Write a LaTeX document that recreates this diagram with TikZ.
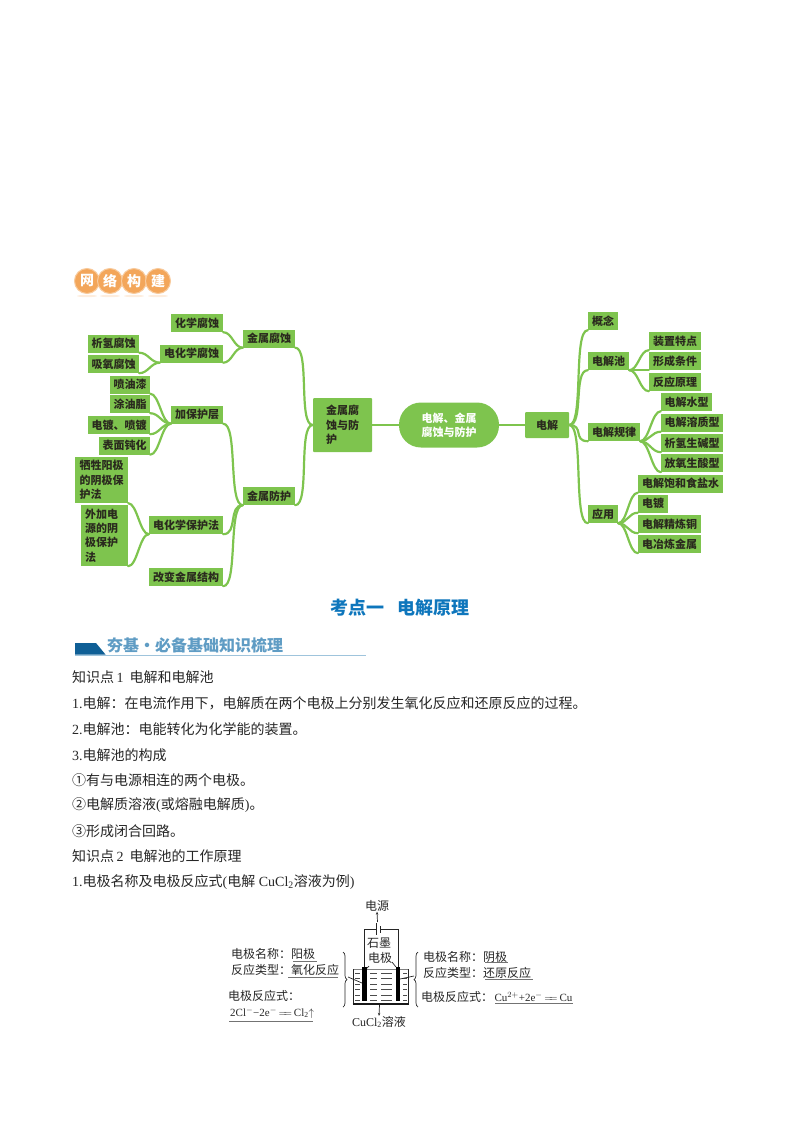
\documentclass[tikz,border=0pt]{standalone}
\usepackage{fontspec}
\setmainfont{Noto Sans CJK SC}
\newfontfamily\latn{Liberation Serif}
\usetikzlibrary{arrows.meta,positioning,decorations.pathreplacing}
\definecolor{mapgreen}{HTML}{7EC44E}
\definecolor{inkdark}{HTML}{2A2A1E}
\definecolor{titleblue}{HTML}{0E76BC}
\definecolor{bandblue}{HTML}{0F5F96}
\definecolor{bandtext}{HTML}{5F9CC4}
\definecolor{logoorange}{HTML}{F3A65A}
\newcommand{\mapfont}{\fontsize{11}{14.3}\bfseries\selectfont}
\newcommand{\bodyfont}{\fontsize{14}{17}\selectfont}
\newcommand{\labfont}{\fontsize{12}{15}\selectfont}
\newcommand{\eqfont}{\fontsize{11}{14}\latn}
\tikzset{
  topic/.style={fill=mapgreen,text=inkdark,font=\mapfont,inner sep=0pt,align=left,minimum height=18},
  link/.style={mapgreen,line width=2.2pt,line cap=round,out=0,in=180,distance=9},
  longlink/.style={link,distance=15},
  bodyline/.style={anchor=west,inner sep=0pt,text=black!85,font=\bodyfont},
  lab/.style={anchor=west,inner sep=0pt,text=black!85,font=\labfont},
  wire/.style={black!85,line width=0.7pt},
  ruleline/.style={black!55,line width=0.6pt},
}
\begin{document}
\begin{tikzpicture}[x=1pt,y=-1pt]
\useasboundingbox (0,0) rectangle (800,1132);
% logo
\foreach \x/\txt [count=\i] in {87/网,110/络,134/构,158/建} {
  \fill[logoorange!20] (\x,296) ellipse (10 and 1.2);
  \node[circle,fill=logoorange,draw=logoorange!60,line width=1pt,minimum size=25,inner sep=0pt,
    text=white,font=\fontsize{14}{14}\bfseries\selectfont] (logo\i) at (\x,281) {\txt};
}
% left branch
\foreach \name/\x/\y/\w/\txt in {
  chem/197/323/52/化学腐蚀, corr/269/338.5/52/金属腐蚀, hydro/113.5/343.5/51/析氢腐蚀,
  elec/191.5/353.5/63/电化学腐蚀, oxy/113.5/364/51/吸氧腐蚀, paint/130/384.5/40/喷油漆,
  grease/130/404/40/涂油脂, layer/197/414.5/52/加保护层, plate/119/425/62/电镀、喷镀,
  passiv/124.5/445.5/51/表面钝化, cath/186/525/74/电化学保护法,
  struct/186/577/74/改变金属结构, guard/269/496/52/金属防护} {
  \node[topic,minimum width=\w] (\name) at (\x,\y) {\txt};
}
\node[topic,minimum width=53,minimum height=46] (sacr) at (101.5,480) {牺牲阳极\\的阴极保\\护法};
\node[topic,text width=39,minimum width=47,minimum height=61,inner xsep=4pt] (ext) at (104.5,535.5) {外加电\\源的阴\\极保护\\法};
\node[topic,minimum width=59,minimum height=54,rounded corners=1pt] (prot) at (342.5,425) {金属腐\\蚀与防\\护};
% centre
\node[fill=mapgreen,text=white,font=\mapfont,align=center,rounded corners=22,inner sep=0pt,
  minimum width=100,minimum height=45] (root) at (449,425) {电解、金属\\腐蚀与防护};
\node[topic,minimum width=44,minimum height=26,rounded corners=1pt] (elyt) at (547,425) {电解};
% right branch
\foreach \name/\x/\y/\w/\txt in {
  idea/603/321/30/概念, cell/608.5/361/41/电解池, feat/675/341/52/装置特点, cond/675/361/52/形成条件,
  prin/675/382/52/反应原理, law/614/432/52/电解规律, water/686.5/402/51/电解水型, solu/692/422.5/62/电解溶质型,
  base/692/443/62/析氢生碱型, acid/692/463/62/放氧生酸型, use/603/514/30/应用,
  brine/680.5/483.5/85/电解饱和食盐水, elpl/653/503.5/30/电镀, refine/669.5/524/63/电解精炼铜,
  smelt/669.5/544/63/电冶炼金属} {
  \node[topic,minimum width=\w] (\name) at (\x,\y) {\txt};
}
% connectors, always from the left node to the right node
\foreach \from/\to in {chem/corr, elec/corr, hydro/elec, oxy/elec, paint/layer, grease/layer, plate/layer,
  passiv/layer, sacr/cath, ext/cath,
  cell/feat, cell/cond, cell/prin, law/water, law/solu, law/base, law/acid,
  use/brine, use/elpl, use/refine, use/smelt} {
  \draw[link] (\from.south east) to (\to.south west);
}
\foreach \from in {layer,cath,struct} \draw[longlink] (\from.south east) to (guard.south west);
\foreach \from in {corr,guard} \draw[longlink] (\from.south east) to (prot.west);
\foreach \to in {idea,cell,law,use} \draw[longlink] (elyt.east) to (\to.south west);
\draw[mapgreen,line width=2.2pt] (prot.east) -- (root.west) (root.east) -- (elyt.west);
% title and band
\node[text=titleblue,font=\fontsize{18}{20}\bfseries\selectfont,inner sep=0pt] (title) at (400,608) {考点一\hspace{14pt}电解原理};
\fill[bandblue] (75,643) -- (96,643) -- (105.5,654.5) -- (75,654.5) -- cycle;
\draw[bandtext!60,line width=0.8pt] (75,655.5) -- (366,655.5);
\node[anchor=west,inner sep=0pt,text=bandtext,font=\fontsize{16}{18}\bfseries\selectfont] (band) at (107,645) {夯基·必备基础知识梳理};
% text lines
\foreach \y/\txt [count=\i] in {
  677/知识点{\latn\,1}\hspace{6pt}电解和电解池,
  703/{\latn 1.}电解：在电流作用下，电解质在两个电极上分别发生氧化反应和还原反应的过程。,
  729/{\latn 2.}电解池：电能转化为化学能的装置。,
  755/{\latn 3.}电解池的构成,
  780/①有与电源相连的两个电极。,
  805/②电解质溶液{\latn (}或熔融电解质{\latn )}。,
  831/③形成闭合回路。,
  856/知识点{\latn\,2}\hspace{6pt}电解池的工作原理,
  882/{\latn 1.}电极名称及电极反应式{\latn (}电解{\latn\ CuCl\textsubscript{2}}溶液为例{\latn )}} {
  \node[bodyline] (line\i) at (72,\y) {\txt};
}
% cell sketch
\node[lab,anchor=center] (source) at (377,906) {电源};
\coordinate (batl) at (376,929);
\coordinate (batr) at (380.5,929);
\coordinate (ano) at (364,968);
\coordinate (cat) at (398,968);
\draw[wire] (ano) |- (batl) (cat) |- (batr);
\draw[wire,line width=0.9pt] (376,923) -- (376,935) (380.5,926) -- (380.5,933);
\draw[wire,-{Stealth[length=3pt,width=2.5pt]}] (377.5,922) -- (source.south);
\node[lab,anchor=center] (carbon) at (379,943) {石墨};
\node[lab,anchor=center] (rod) at (380,958) {电极};
\draw[black!50,line width=0.6pt] (353,969) -- (408,969);
\draw[wire] (353,969) -- (353,1004) (408,969) -- (408,1004);
\draw[black!90,line width=1.4pt] (352.5,1004) -- (408.5,1004);
\foreach \y in {973,978.5,984,989.5,995,1000} {
  \draw[black!70,line width=0.5pt] (355,\y) -- (360,\y) (370,\y) -- (377,\y) (381,\y) -- (392,\y) (403,\y) -- (407,\y);
}
\fill[black] (362,967) rectangle (367,1001);
\fill[black] (396,967) rectangle (400,1001);
\draw[wire] (369,966) -- (367,968) (392,962) -- (396,967);
\coordinate (bath) at (379.5,1005);
\node[lab,anchor=center] (soln) at (379,1022) {{\latn CuCl\textsubscript{2}}溶液};
\draw[wire,-{Stealth[length=3pt,width=2.5pt]}] (bath) -- (soln.north);
% braces
\draw[wire,decorate,decoration={brace,amplitude=4}] (343,952) -- (343,1007);
\draw[wire,decorate,decoration={brace,amplitude=4}] (418,1007) -- (418,952);
\draw[wire] (348,977) -- (362,983) (400,979) -- (414,976);
% left labels
\node[lab] (lname) at (231,954) {电极名称：阳极};
\node[lab] (ltype) at (231,970) {反应类型：氧化反应};
\node[lab] (lform) at (228,996) {电极反应式：};
\node[lab,font=\eqfont] (leq) at (230,1013) {2Cl$^{-}$−2e$^{-}$\,$=\!\!=$\,Cl\textsubscript{2}$\uparrow$};
% right labels
\node[lab] (rname) at (423,957) {电极名称：阴极};
\node[lab] (rtype) at (423,973) {反应类型：还原反应};
\node[lab] (rform) at (421,997) {电极反应式：};
\node[lab,font=\eqfont,right=1pt of rform] (req) {Cu$^{2+}$+2e$^{-}$\,$=\!\!=$\,Cu};
\foreach \a/\b/\y in {293/317/961, 288/338/977, 229/313/1021, 485/508/962, 485/533/979, 495/573/1003} {
  \draw[ruleline] (\a,\y) -- (\b,\y);
}
\end{tikzpicture}
\end{document}
